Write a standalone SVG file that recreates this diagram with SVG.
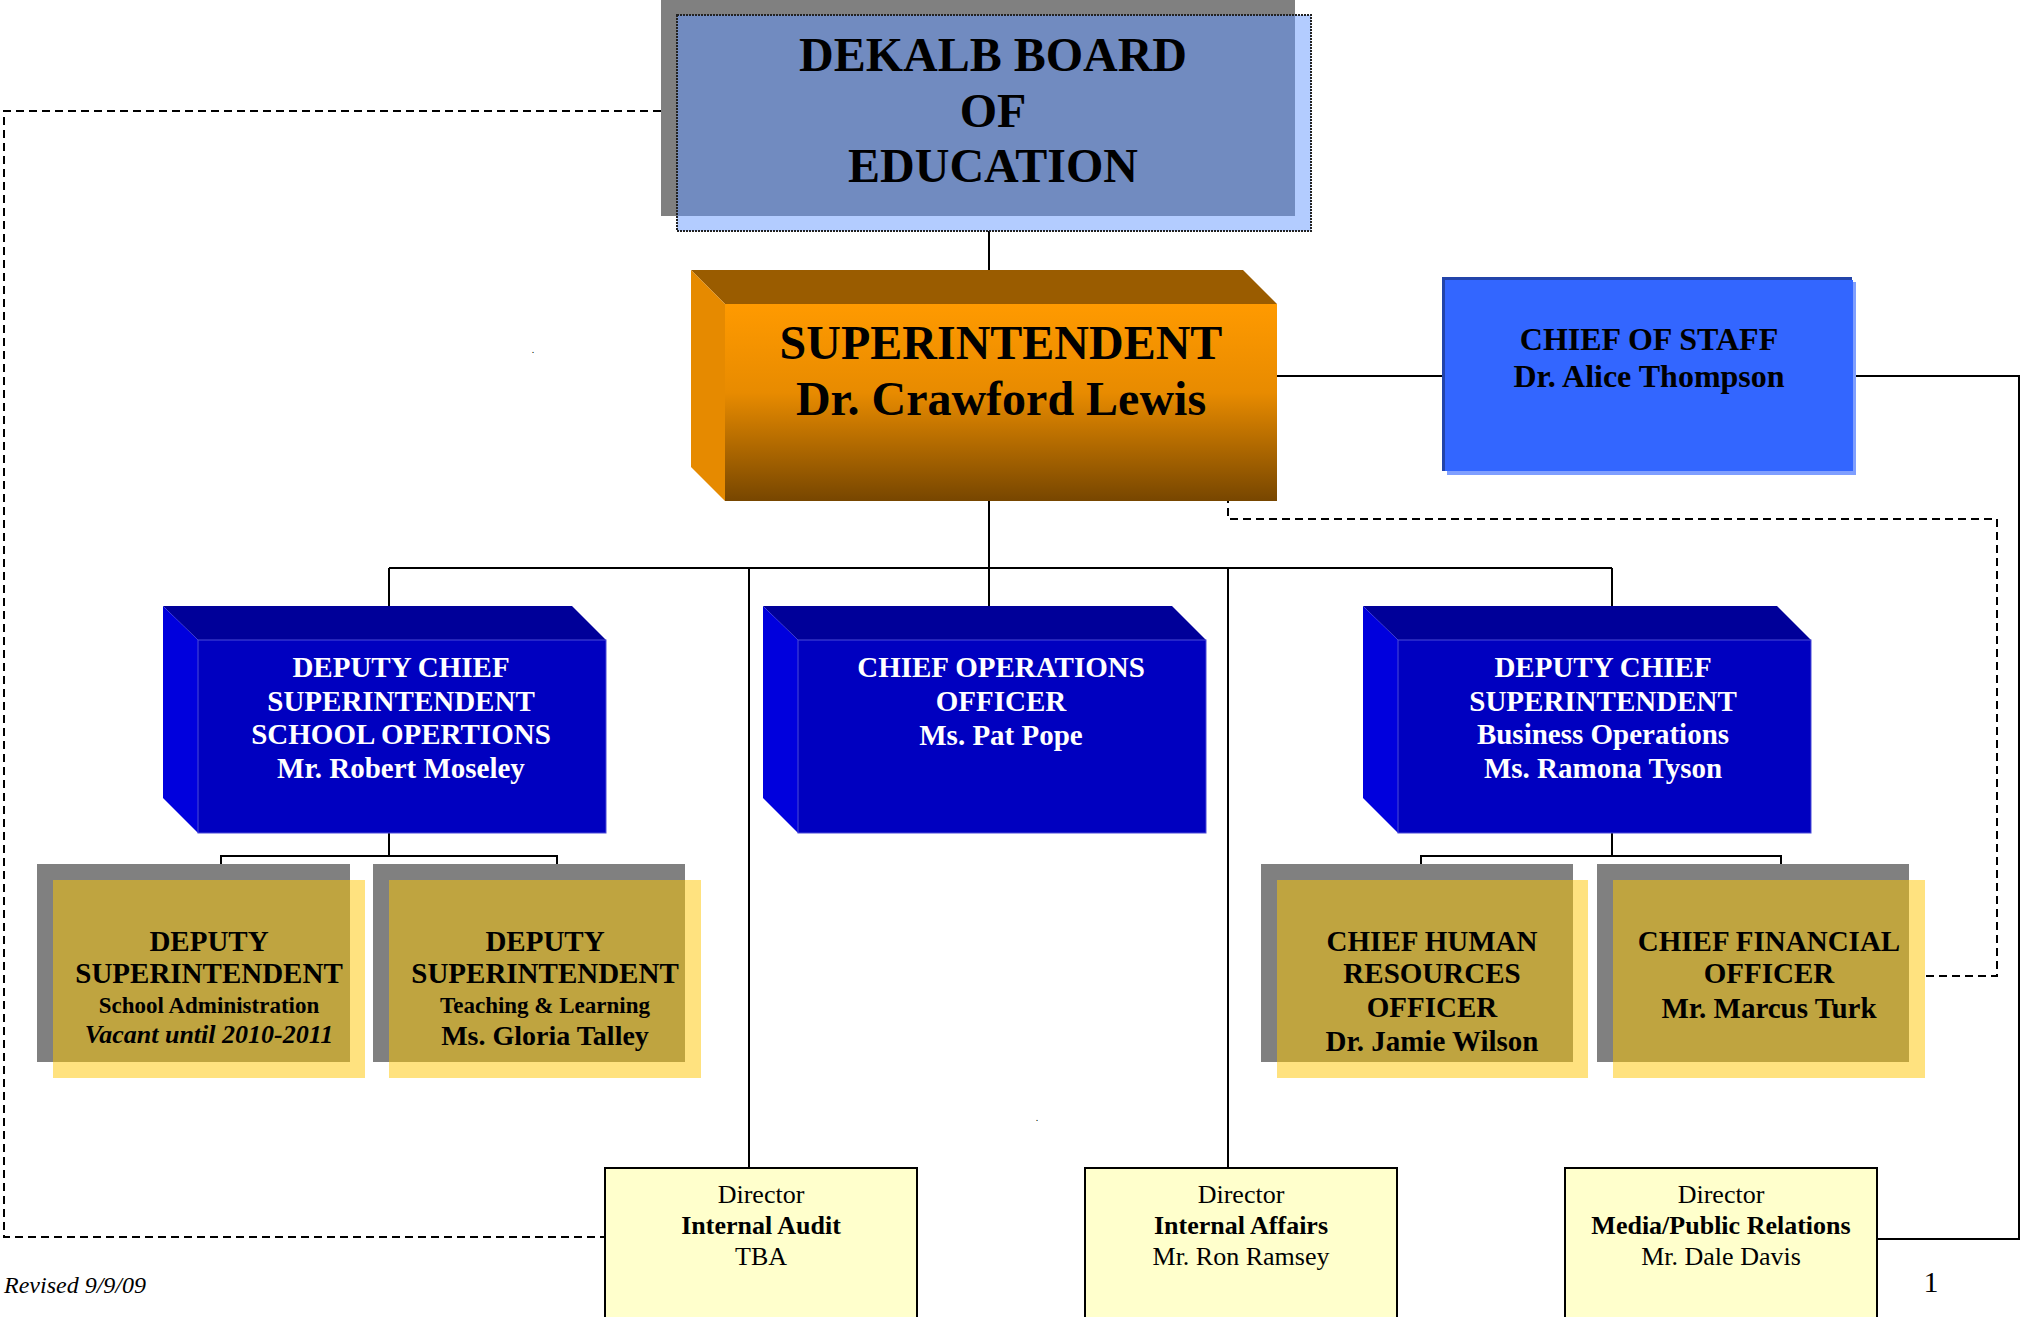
<svg xmlns="http://www.w3.org/2000/svg" width="2021" height="1317" viewBox="0 0 2021 1317">
<defs>
<linearGradient id="supGrad" x1="0" y1="0" x2="0" y2="1">
<stop offset="0" stop-color="#FF9A00"/>
<stop offset="0.45" stop-color="#E88B00"/>
<stop offset="1" stop-color="#774600"/>
</linearGradient>
<style>
.t{font-family:"Liberation Serif","Times New Roman",serif;text-anchor:middle}
.b{font-weight:bold}
.w{fill:#FFFFFF}
.k{fill:#000000}
.ln{fill:none;stroke:#000;stroke-width:2}
.ds{fill:none;stroke:#000;stroke-width:2;stroke-dasharray:8 5}
.btop{fill:#000099}
.bleft{fill:#0000DD}
.bfront{fill:#0000C0;stroke:#4A4AD8;stroke-width:1}
.gray{fill:#808080}
.yel{fill:#FFE27F}
.gold{fill:#BFA440}
.dir{fill:#FFFFCC;stroke:#000;stroke-width:2}
</style>
</defs>
<rect width="2021" height="1317" fill="#FFFFFF"/>

<g id="connectors">
<path class="ln" d="M989 231 V272"/>
<path class="ln" d="M989 495 V568"/>
<path class="ln" d="M389 568 H1612"/>
<path class="ln" d="M389 568 V616"/>
<path class="ln" d="M989 568 V616"/>
<path class="ln" d="M1612 568 V616"/>
<path class="ln" d="M749 568 V1168"/>
<path class="ln" d="M1228 568 V1168"/>
<path class="ln" d="M1277 376 H1442"/>
<path class="ln" d="M1853 376 H2019 V1239 H1877"/>
<path class="ln" d="M389 833 V856 M221 880 V856 H557 V880"/>
<path class="ln" d="M1612 833 V856 M1421 880 V856 H1781 V880"/>
<path class="ds" d="M1228 495 V519 H1997 V976 H1925"/>
<path class="ds" d="M661 111 H4 V1237 H605"/>
</g>

<g id="board">
<rect x="661" y="0" width="634" height="216" class="gray"/>
<rect x="677" y="15" width="634" height="216" fill="#B3CCFF"/>
<rect x="677" y="15" width="618" height="201" fill="#718BC0"/>
<rect x="677" y="15" width="634" height="216" fill="none" stroke="#222" stroke-width="2" stroke-dasharray="2 1"/>
<text class="t b k" font-size="48" x="993" y="71">DEKALB BOARD</text>
<text class="t b k" font-size="48" x="993" y="127">OF</text>
<text class="t b k" font-size="48" x="993" y="182">EDUCATION</text>
</g>

<g id="superintendent">
<polygon points="691,270 1243,270 1277,304 725,304" fill="#9A5C00"/>
<polygon points="691,270 725,304 725,501 691,467" fill="#E68A00"/>
<rect x="725" y="304" width="552" height="197" fill="url(#supGrad)"/>
<text class="t b k" font-size="48" x="1001" y="359">SUPERINTENDENT</text>
<text class="t b k" font-size="48" x="1001" y="415">Dr. Crawford Lewis</text>
</g>

<g id="chief-of-staff">
<rect x="1447" y="282" width="409" height="193" fill="#7F9FFF"/>
<rect x="1442" y="277" width="410" height="194" fill="#2244AA"/>
<rect x="1445" y="280" width="408" height="191" fill="#3366FF"/>
<text class="t b k" font-size="32" x="1649" y="350">CHIEF OF STAFF</text>
<text class="t b k" font-size="32" x="1649" y="387">Dr. Alice Thompson</text>
</g>

<g id="deputy-school-ops">
<polygon class="btop" points="163,606 572,606 606,640 198,640"/>
<polygon class="bleft" points="163,606 198,640 198,833 163,798"/>
<rect class="bfront" x="198" y="640" width="408" height="193"/>
<text class="t b w" font-size="29" x="401" y="677">DEPUTY CHIEF</text>
<text class="t b w" font-size="29" x="401" y="711">SUPERINTENDENT</text>
<text class="t b w" font-size="29" x="401" y="744">SCHOOL OPERTIONS</text>
<text class="t b w" font-size="29" x="401" y="778">Mr. Robert Moseley</text>
</g>

<g id="coo">
<polygon class="btop" points="763,606 1172,606 1206,640 798,640"/>
<polygon class="bleft" points="763,606 798,640 798,833 763,798"/>
<rect class="bfront" x="798" y="640" width="408" height="193"/>
<text class="t b w" font-size="29" x="1001" y="677">CHIEF OPERATIONS</text>
<text class="t b w" font-size="29" x="1001" y="711">OFFICER</text>
<text class="t b w" font-size="29" x="1001" y="745">Ms. Pat Pope</text>
</g>

<g id="deputy-business-ops">
<polygon class="btop" points="1363,606 1777,606 1811,640 1398,640"/>
<polygon class="bleft" points="1363,606 1398,640 1398,833 1363,798"/>
<rect class="bfront" x="1398" y="640" width="413" height="193"/>
<text class="t b w" font-size="29" x="1603" y="677">DEPUTY CHIEF</text>
<text class="t b w" font-size="29" x="1603" y="711">SUPERINTENDENT</text>
<text class="t b w" font-size="29" x="1603" y="744">Business Operations</text>
<text class="t b w" font-size="29" x="1603" y="778">Ms. Ramona Tyson</text>
</g>

<g id="deputy-school-admin">
<rect class="gray" x="37" y="864" width="313" height="198"/>
<rect class="yel" x="53" y="880" width="312" height="198"/>
<rect class="gold" x="53" y="880" width="297" height="182"/>
<text class="t b k" font-size="29" x="209" y="951">DEPUTY</text>
<text class="t b k" font-size="29" x="209" y="983">SUPERINTENDENT</text>
<text class="t b k" font-size="23" x="209" y="1013">School Administration</text>
<text class="t b k" font-size="26" font-style="italic" x="209" y="1043">Vacant until 2010-2011</text>
</g>

<g id="deputy-teaching">
<rect class="gray" x="373" y="864" width="312" height="198"/>
<rect class="yel" x="389" y="880" width="312" height="198"/>
<rect class="gold" x="389" y="880" width="296" height="182"/>
<text class="t b k" font-size="29" x="545" y="951">DEPUTY</text>
<text class="t b k" font-size="29" x="545" y="983">SUPERINTENDENT</text>
<text class="t b k" font-size="23" x="545" y="1013">Teaching &amp; Learning</text>
<text class="t b k" font-size="28" x="545" y="1045">Ms. Gloria Talley</text>
</g>

<g id="chro">
<rect class="gray" x="1261" y="864" width="312" height="198"/>
<rect class="yel" x="1277" y="880" width="311" height="198"/>
<rect class="gold" x="1277" y="880" width="296" height="182"/>
<text class="t b k" font-size="29" x="1432" y="951">CHIEF HUMAN</text>
<text class="t b k" font-size="29" x="1432" y="983">RESOURCES</text>
<text class="t b k" font-size="29" x="1432" y="1017">OFFICER</text>
<text class="t b k" font-size="29" x="1432" y="1051">Dr. Jamie Wilson</text>
</g>

<g id="cfo">
<rect class="gray" x="1597" y="864" width="312" height="198"/>
<rect class="yel" x="1613" y="880" width="312" height="198"/>
<rect class="gold" x="1613" y="880" width="296" height="182"/>
<text class="t b k" font-size="29" x="1769" y="951">CHIEF FINANCIAL</text>
<text class="t b k" font-size="29" x="1769" y="983">OFFICER</text>
<text class="t b k" font-size="29" x="1769" y="1018">Mr. Marcus Turk</text>
</g>

<g id="internal-audit">
<rect class="dir" x="605" y="1168" width="312" height="152"/>
<text class="t k" font-size="26" x="761" y="1203">Director</text>
<text class="t b k" font-size="26" x="761" y="1234">Internal Audit</text>
<text class="t k" font-size="26" x="761" y="1265">TBA</text>
</g>

<g id="internal-affairs">
<rect class="dir" x="1085" y="1168" width="312" height="152"/>
<text class="t k" font-size="26" x="1241" y="1203">Director</text>
<text class="t b k" font-size="26" x="1241" y="1234">Internal Affairs</text>
<text class="t k" font-size="26" x="1241" y="1265">Mr. Ron Ramsey</text>
</g>

<g id="media-relations">
<rect class="dir" x="1565" y="1168" width="312" height="152"/>
<text class="t k" font-size="26" x="1721" y="1203">Director</text>
<text class="t b k" font-size="26" x="1721" y="1234">Media/Public Relations</text>
<text class="t k" font-size="26" x="1721" y="1265">Mr. Dale Davis</text>
</g>

<g id="annotations">
<text font-family="Liberation Serif, serif" font-style="italic" font-size="24" x="4" y="1293">Revised 9/9/09</text>
<text class="t k" font-size="30" x="1931" y="1292">1</text>
<text class="t k" font-size="10" x="533" y="353">.</text>
<text class="t k" font-size="10" x="1037" y="1121">.</text>
</g>
</svg>
